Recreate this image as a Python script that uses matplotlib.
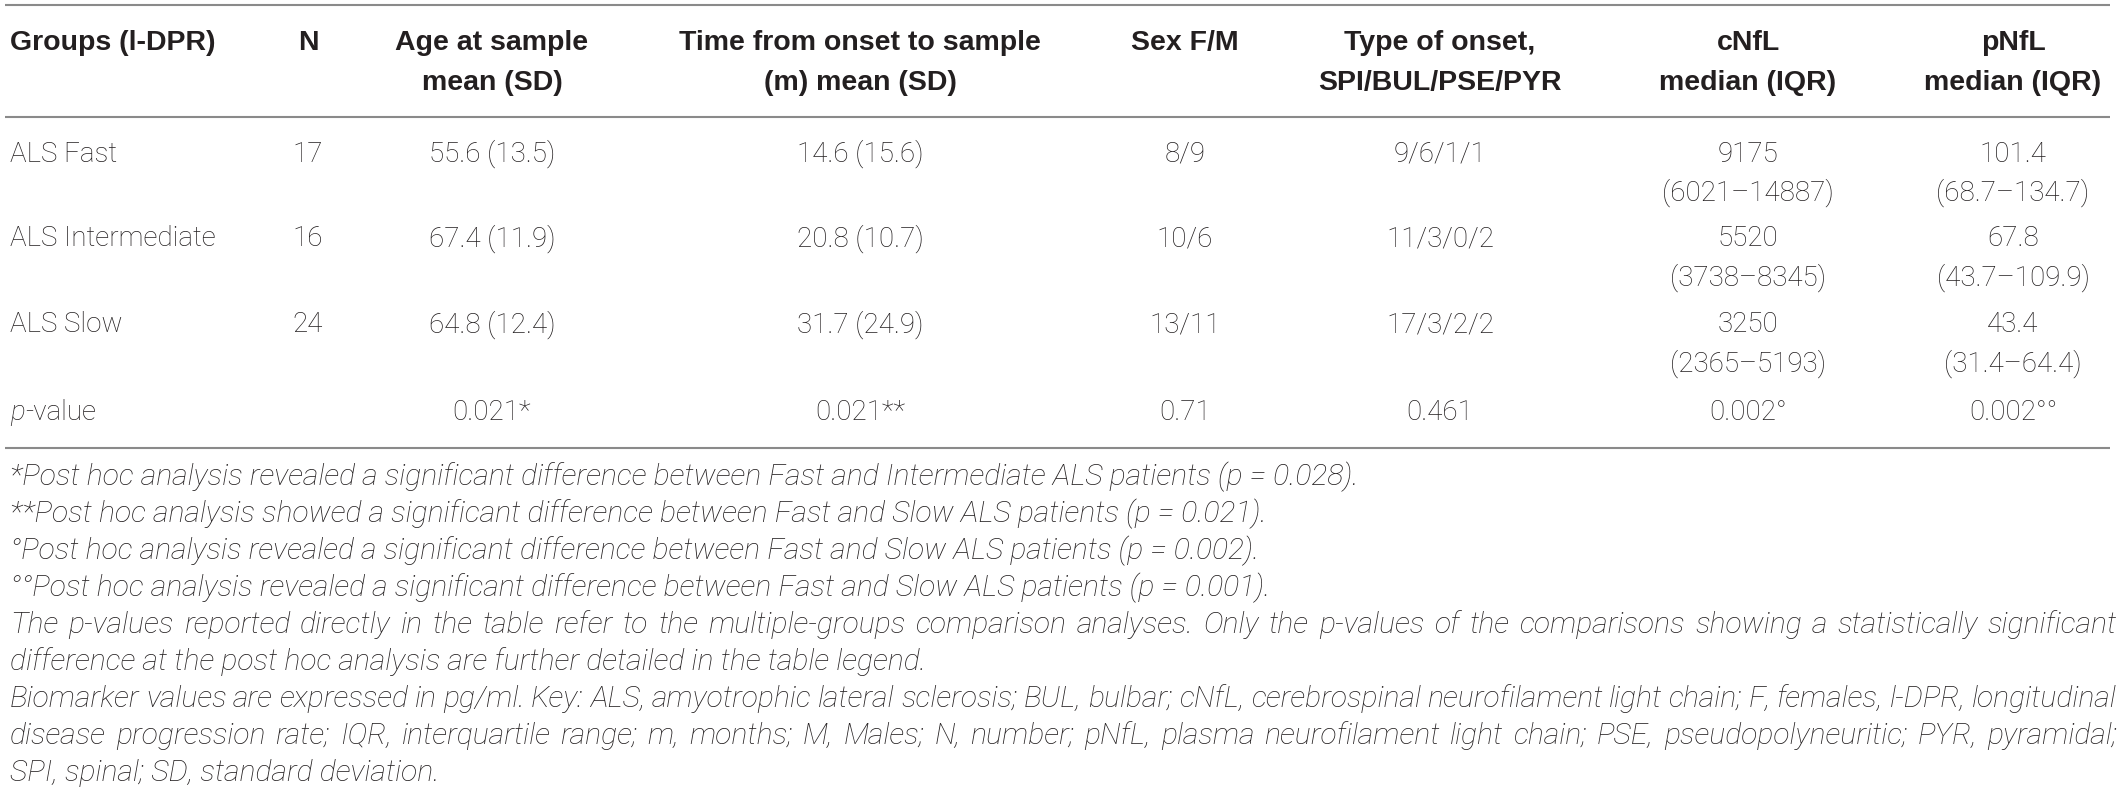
import matplotlib
matplotlib.use("Agg")
import matplotlib.pyplot as plt

# ---------------- data ----------------
header_line1 = ["Groups (l-DPR)", "N", "Age at sample", "Time from onset to sample",
                "Sex F/M", "Type of onset,", "cNfL", "pNfL"]
header_line2 = ["", "", "mean (SD)", "(m) mean (SD)", "", "SPI/BUL/PSE/PYR",
                "median (IQR)", "median (IQR)"]

groups = ["ALS Fast", "ALS Intermediate", "ALS Slow"]
n_values = ["17", "16", "24"]
age_values = ["55.6 (13.5)", "67.4 (11.9)", "64.8 (12.4)"]
time_values = ["14.6 (15.6)", "20.8 (10.7)", "31.7 (24.9)"]
sex_values = ["8/9", "10/6", "13/11"]
onset_values = ["9/6/1/1", "11/3/0/2", "17/3/2/2"]
cnfl_median = ["9175", "5520", "3250"]
cnfl_iqr = ["(6021–14887)", "(3738–8345)", "(2365–5193)"]
pnfl_median = ["101.4", "67.8", "43.4"]
pnfl_iqr = ["(68.7–134.7)", "(43.7–109.9)", "(31.4–64.4)"]
p_values = ["0.021*", "0.021**", "0.71", "0.461", "0.002°", "0.002°°"]

footnotes = [
    "*Post hoc analysis revealed a significant difference between Fast and Intermediate ALS patients (p = 0.028).",
    "**Post hoc analysis showed a significant difference between Fast and Slow ALS patients (p = 0.021).",
    "°Post hoc analysis revealed a significant difference between Fast and Slow ALS patients (p = 0.002).",
    "°°Post hoc analysis revealed a significant difference between Fast and Slow ALS patients (p = 0.001).",
    "The p-values reported directly in the table refer to the multiple-groups comparison analyses. Only the p-values of the comparisons showing a statistically significant",
    "difference at the post hoc analysis are further detailed in the table legend.",
    "Biomarker values are expressed in pg/ml. Key: ALS, amyotrophic lateral sclerosis; BUL, bulbar; cNfL, cerebrospinal neurofilament light chain; F, females, l-DPR, longitudinal",
    "disease progression rate; IQR, interquartile range; m, months; M, Males; N, number; pNfL, plasma neurofilament light chain; PSE, pseudopolyneuritic; PYR, pyramidal;",
    "SPI, spinal; SD, standard deviation.",
]
justified = [False, False, False, False, True, False, True, True, False]

# ---------------- layout ----------------
W, H = 2123, 795
fig = plt.figure(figsize=(W / 100, H / 100), dpi=100)
fig.patch.set_facecolor("white")
ax = fig.add_axes([0, 0, 1, 1])
ax.set_xlim(0, W)
ax.set_ylim(H, 0)
ax.axis("off")

TXT = "#231f20"
RULE = "#8a8a8a"
HEAD = dict(family=["Liberation Sans", "DejaVu Sans"], weight="bold", fontsize=20.5, color=TXT)
BODY = dict(family=["Roboto", "Liberation Sans", "DejaVu Sans"], weight="light", fontsize=20, color=TXT)
NOTE_FAM = ["Roboto", "Liberation Sans", "DejaVu Sans"]

col_x = [10, 308, 492, 860, 1185, 1440, 1748, 2013]
x_left, x_right = 5, 2110

renderer = fig.canvas.get_renderer()

def width_of(t):
    bb = t.get_window_extent(renderer=renderer)
    return bb.width

# rules
for y in (5, 117, 448):
    ax.plot([x_left, x_right], [y, y], color=RULE, lw=1.5, solid_capstyle="butt")

# header
hy1, hy2 = 43, 83
for i, (h1, h2) in enumerate(zip(header_line1, header_line2)):
    ha = "left" if i == 0 else "center"
    if h2:
        ax.text(col_x[i], hy1, h1, ha=ha, va="center", **HEAD)
        ax.text(col_x[i], hy2, h2, ha=ha, va="center", **HEAD)
    else:
        ax.text(col_x[i], hy1, h1, ha=ha, va="center", **HEAD)

# body rows
row_y = [154, 239, 325]
line2_dy = 39
for r, y in enumerate(row_y):
    ax.text(col_x[0], y, groups[r], ha="left", va="center", **BODY)
    singles = [n_values[r], age_values[r], time_values[r], sex_values[r], onset_values[r]]
    for c, s in enumerate(singles, start=1):
        ax.text(col_x[c], y, s, ha="center", va="center", **BODY)
    ax.text(col_x[6], y, cnfl_median[r], ha="center", va="center", **BODY)
    ax.text(col_x[6], y + line2_dy, cnfl_iqr[r], ha="center", va="center", **BODY)
    ax.text(col_x[7], y, pnfl_median[r], ha="center", va="center", **BODY)
    ax.text(col_x[7], y + line2_dy, pnfl_iqr[r], ha="center", va="center", **BODY)

# p-value row
py = 412
tp = ax.text(col_x[0], py, "p", ha="left", va="center", style="italic", **BODY)
ax.text(col_x[0] + width_of(tp), py, "-value", ha="left", va="center", **BODY)
for c, s in enumerate(p_values, start=2):
    ax.text(col_x[c], py, s, ha="center", va="center", **BODY)

# footnotes: size so that first line spans ~1348 px
probe = ax.text(0, 0, footnotes[0], fontsize=20, family=NOTE_FAM, weight="light", style="italic")
note_size = 20 * 1348.0 / width_of(probe)
probe.remove()
NOTE = dict(family=NOTE_FAM, weight="light", style="italic", fontsize=note_size, color=TXT)

fx = 10
fx_right = 2117
for i, line in enumerate(footnotes):
    y = 477 + 37 * i
    if not justified[i]:
        ax.text(fx, y, line, ha="left", va="center", **NOTE)
        continue
    words = line.split(" ")
    texts = [ax.text(0, y, w, ha="left", va="center", **NOTE) for w in words]
    widths = [width_of(t) for t in texts]
    gap = (fx_right - fx - sum(widths)) / (len(words) - 1)
    x = fx
    for t, w in zip(texts, widths):
        t.set_x(x)
        x += w + gap

fig.savefig("out.png", dpi=100, facecolor="white")
